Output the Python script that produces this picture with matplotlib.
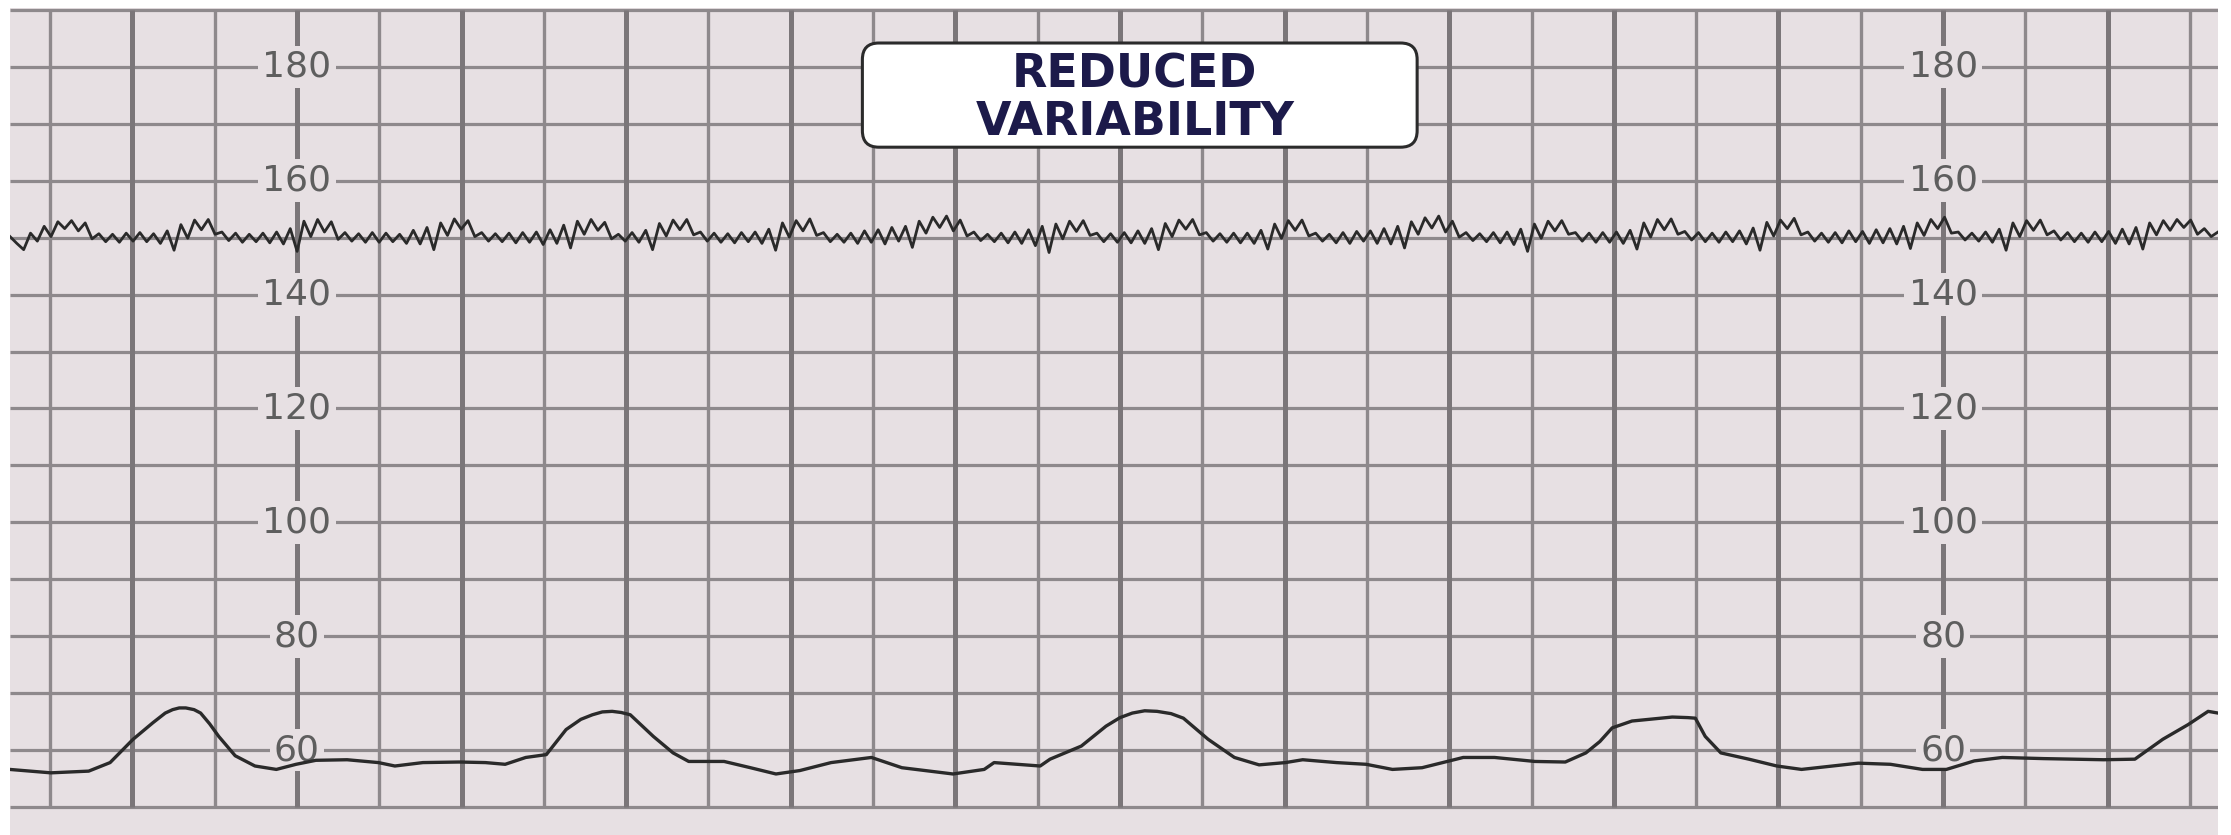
import numpy as np
import matplotlib
matplotlib.use("Agg")
import matplotlib.pyplot as plt
from matplotlib.patches import FancyBboxPatch

# grid: vertical lines every cell (0..26), horizontal every 10 bpm
v_lines = list(range(0, 27))
h_lines = list(range(50, 191, 10))
bpm_labels = [60, 80, 100, 120, 140, 160, 180]
label_cols = [3, 23]
title_lines = ["REDUCED", "VARIABILITY"]

# fetal heart rate trace (bpm), read along the strip
fhr = [
    150.2, 149.0, 147.9, 150.8, 149.4, 152.0, 150.2, 152.8, 151.6, 153.0, 151.2, 152.6, 149.8, 150.7, 149.3, 150.6, 149.2, 150.8,
    149.4, 150.9, 149.3, 150.7, 149.0, 151.2, 147.8, 152.3, 149.9, 153.1, 151.4, 153.2, 150.6, 151.0, 149.5, 150.8, 149.2, 150.6,
    149.3, 150.8, 149.1, 151.0, 148.9, 151.6, 147.6, 152.9, 150.2, 153.2, 151.0, 152.8, 149.7, 150.9, 149.4, 150.7, 149.2, 150.9,
    149.2, 150.8, 149.3, 150.6, 149.0, 151.3, 148.9, 151.8, 147.9, 152.6, 150.4, 153.3, 151.5, 153.0, 150.2, 150.9, 149.4, 150.7,
    149.3, 150.8, 149.1, 150.9, 149.2, 151.0, 148.8, 151.4, 149.0, 152.2, 148.2, 152.9, 150.6, 153.2, 151.3, 152.7, 149.8, 150.6,
    149.4, 150.9, 149.2, 151.3, 147.9, 152.5, 150.3, 153.1, 151.4, 153.2, 150.5, 151.0, 149.4, 150.8, 149.2, 150.7, 149.1, 150.9,
    149.3, 151.0, 149.0, 151.5, 147.8, 152.6, 150.1, 153.0, 151.2, 153.3, 150.4, 150.9, 149.3, 150.6, 149.2, 150.8, 149.0, 151.2,
    149.2, 151.4, 148.9, 151.8, 149.4, 152.0, 148.3, 152.9, 150.8, 153.6, 151.8, 153.8, 151.2, 153.1, 150.3, 151.0, 149.5, 150.6,
    149.3, 150.8, 149.1, 151.0, 149.0, 151.4, 148.6, 152.0, 147.4, 152.4, 149.8, 152.9, 151.1, 153.0, 150.4, 150.8, 149.3, 150.7,
    149.2, 150.9, 149.1, 151.2, 149.0, 151.6, 147.9, 152.5, 150.2, 153.1, 151.5, 153.2, 150.5, 150.9, 149.4, 150.7, 149.2, 150.8,
    149.1, 150.8, 149.0, 151.3, 148.0, 152.4, 149.9, 153.0, 151.3, 153.1, 150.3, 150.8, 149.4, 150.6, 149.1, 150.9, 149.0, 151.1,
    149.4, 151.2, 149.0, 151.6, 148.9, 152.0, 148.2, 152.8, 150.6, 153.5, 151.7, 153.8, 151.0, 152.9, 150.1, 150.9, 149.5, 150.7,
    149.3, 150.9, 149.1, 151.0, 148.8, 151.5, 147.6, 152.4, 149.9, 152.9, 151.2, 153.0, 150.6, 150.9, 149.4, 150.8, 149.2, 150.9,
    149.2, 151.0, 149.0, 151.3, 148.0, 152.6, 150.1, 153.2, 151.4, 153.3, 150.6, 151.1, 149.6, 150.9, 149.3, 150.8, 149.2, 151.0,
    149.3, 151.2, 148.9, 151.7, 147.8, 152.7, 150.3, 153.1, 151.6, 153.4, 150.5, 151.0, 149.4, 150.8, 149.2, 150.9, 149.1, 151.2,
    149.3, 151.1, 149.0, 151.4, 149.1, 151.6, 148.9, 152.0, 148.1, 152.6, 150.4, 153.2, 151.6, 153.6, 150.8, 151.0, 149.6, 150.8,
    149.4, 151.0, 149.2, 151.5, 147.8, 152.6, 150.2, 153.0, 151.3, 153.1, 150.5, 151.2, 149.6, 150.9, 149.3, 150.8, 149.2, 151.0,
    149.3, 151.1, 149.0, 151.5, 148.9, 151.8, 148.0, 152.6, 150.5, 153.0, 151.3, 153.2, 151.8, 153.1, 150.6, 151.6, 150.2, 151.0,
]

# lower (contraction) trace: position in grid cells, level on the bpm scale
toco_x = [-0.49, 0.01, 0.47, 0.73, 1.01, 1.25, 1.40, 1.49, 1.57, 1.65, 1.75, 1.83, 1.94, 2.05,
          2.25, 2.49, 2.75, 2.99, 3.23, 3.61, 3.99, 4.19, 4.53, 4.97, 5.29, 5.53, 5.78, 6.03,
          6.27, 6.45, 6.59, 6.71, 6.83, 6.94, 7.05, 7.33, 7.57, 7.76, 8.19, 8.51, 8.82, 9.11,
          9.49, 9.98, 10.35, 10.97, 11.35, 11.47, 12.03, 12.15, 12.53, 12.83, 13.0, 13.15,
          13.30, 13.45, 13.62, 13.77, 14.07, 14.39, 14.69, 15.01, 15.22, 15.63, 15.99, 16.31,
          16.67, 17.17, 17.55, 18.04, 18.41, 18.66, 18.83, 18.98, 19.22, 19.71, 19.90, 19.99,
          20.11, 20.30, 20.64, 20.98, 21.28, 21.97, 22.36, 22.75, 23.04, 23.38, 23.72, 24.22,
          24.95, 25.33, 25.67, 25.98, 26.22, 26.34]
toco_y = [56.6, 56.0, 56.3, 57.8, 61.9, 64.8, 66.5, 67.1, 67.4, 67.4, 67.1, 66.5, 64.6, 62.4,
          59.0, 57.2, 56.6, 57.5, 58.2, 58.3, 57.8, 57.2, 57.8, 57.9, 57.8, 57.5, 58.7, 59.2,
          63.6, 65.4, 66.2, 66.7, 66.8, 66.6, 66.2, 62.4, 59.5, 58.0, 58.0, 56.9, 55.8, 56.4,
          57.8, 58.7, 56.9, 55.8, 56.6, 57.8, 57.2, 58.4, 60.7, 64.2, 65.7, 66.5,
          66.9, 66.8, 66.4, 65.6, 61.9, 58.7, 57.4, 57.8, 58.3, 57.8, 57.5, 56.6,
          56.9, 58.7, 58.7, 58.0, 57.9, 59.5, 61.5, 63.9, 65.1, 65.8, 65.7, 65.6,
          62.4, 59.5, 58.4, 57.2, 56.6, 57.7, 57.5, 56.6, 56.6, 58.1, 58.7, 58.5,
          58.3, 58.4, 61.9, 64.5, 66.8, 66.5]

W, H = 2231, 835
paper = "#e7e0e3"
grid_c = "#8e898c"

fig = plt.figure(figsize=(W / 100, H / 100), dpi=100, facecolor="white")
ax = fig.add_axes([10 / W, 0, 2208 / W, 827 / H])
ax.set_facecolor(paper)
x0, x1 = -0.486, 26.34
y0, y1 = 45.08, 190.35
ax.set_xlim(x0, x1)
ax.set_ylim(y0, y1)
ax.set_xticks([])
ax.set_yticks([])
for s in ax.spines.values():
    s.set_visible(False)

# paper grid
ax.hlines(h_lines, x0, x1, colors=grid_c, lw=2.3, zorder=1)
thin = [v for v in v_lines if v % 2 == 0]
thick = [v for v in v_lines if v % 2 == 1]
ax.vlines(thin, 50, 190, colors=grid_c, lw=2.4, zorder=1)
ax.vlines(thick, 50, 190, colors="#7b7679", lw=3.6, zorder=1)

# bpm labels
for xc in label_cols:
    for v in bpm_labels:
        ax.text(xc, v, str(v), ha="center", va="center", fontsize=26,
                color="#5e5e5e", family="DejaVu Sans", zorder=2,
                bbox=dict(boxstyle="square,pad=0.12", fc=paper, ec="none"))

# traces
fhr_x = np.linspace(x0, x1, len(fhr))
ax.plot(fhr_x, fhr, color="#2a2a2a", lw=2.0, zorder=3, solid_joinstyle="round")
ax.plot(toco_x, toco_y, color="#2a2a2a", lw=2.4, zorder=3, solid_joinstyle="round")

# title box
px_x = 2208 / (x1 - x0)
px_y = 827 / (y1 - y0)
box = FancyBboxPatch((9.87, 165.9), 16.61 - 9.87, 184.2 - 165.9,
                     boxstyle="round,pad=0,rounding_size=0.2",
                     mutation_aspect=px_x / px_y,
                     fc="white", ec="#2b2b2b", lw=2.2, zorder=4)
ax.add_patch(box)
ax.text(13.18, 176.3, title_lines[0], ha="center", va="baseline", fontsize=33,
        fontweight="heavy", color="#1c1a4a", family="DejaVu Sans", zorder=5)
ax.text(13.18, 168.1, title_lines[1], ha="center", va="baseline", fontsize=33,
        fontweight="heavy", color="#1c1a4a", family="DejaVu Sans", zorder=5)

fig.savefig("out.png", dpi=100, facecolor="white")
